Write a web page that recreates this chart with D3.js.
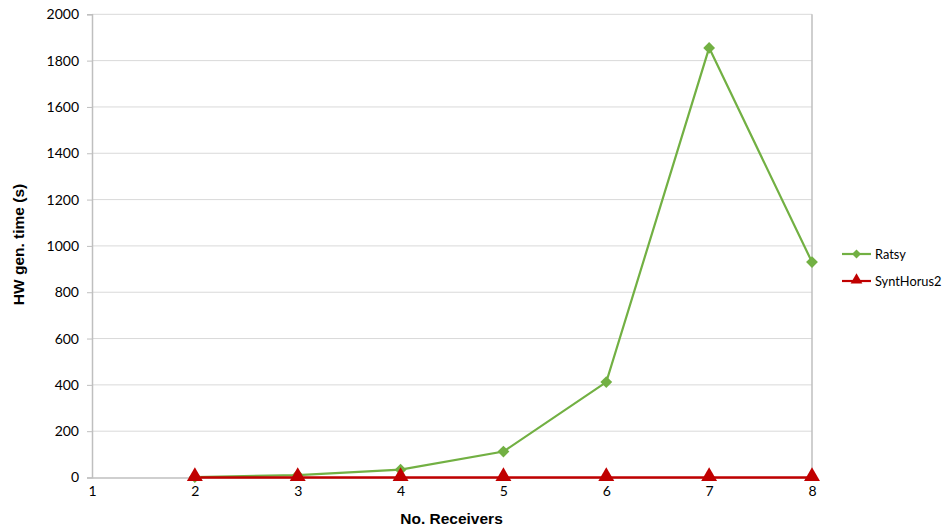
<!DOCTYPE html>
<html><head><meta charset="utf-8">
<script src="https://cdn.jsdelivr.net/npm/d3@7"></script>
<style>body{margin:0;background:#fff;} text{font-family:Lato,"Open Sans",sans-serif;}</style>
</head><body>
<svg id="c" width="944" height="530"></svg>
<script>
const receivers = [2,3,4,5,6,7,8];
const ratsy = [2,10,34,112,412,1855,930];
const synthorus2 = [0,0,0,0,0,0,0];
const yTicks = [0,200,400,600,800,1000,1200,1400,1600,1800,2000];
const xTicks = [1,2,3,4,5,6,7,8];
const seriesNames = ["Ratsy","SyntHorus2"];

const svg = d3.select("#c");
const L=92,R=812,T=14.3,B=477.5;
const x = d3.scaleLinear().domain([1,8]).range([L,R]);
const y = d3.scaleLinear().domain([0,2000]).range([B,T]);

// gridlines
svg.append("g").selectAll("line").data(yTicks.slice(1)).join("line")
  .attr("x1",L).attr("x2",R).attr("y1",d=>y(d)).attr("y2",d=>y(d))
  .attr("stroke","#d9d9d9").attr("stroke-width",1);
// right border
svg.append("line").attr("x1",R).attr("x2",R).attr("y1",T).attr("y2",B).attr("stroke","#bfbfbf").attr("stroke-width",1.5);

const yAxis = d3.axisLeft(y).tickValues(yTicks).tickSize(5).tickPadding(8).tickFormat(d3.format("d"));
const gy = svg.append("g").attr("transform",`translate(${L},0)`).call(yAxis);
gy.select(".domain").attr("stroke","#bfbfbf").attr("stroke-width",1.5);
gy.selectAll(".tick line").attr("stroke","#bfbfbf");
gy.selectAll("text").attr("font-size",14).attr("fill","#000").style("font-family","Lato");

const xAxis = d3.axisBottom(x).tickValues(xTicks).tickSize(0).tickPadding(9).tickFormat(d3.format("d"));
const gx = svg.append("g").attr("transform",`translate(0,${B})`).call(xAxis);
gx.select(".domain").attr("stroke","#bfbfbf").attr("stroke-width",1.5);
gx.selectAll("text").attr("font-size",14).attr("fill","#000").style("font-family","Lato");

const green="#72b043", red="#c00000";
const line = d3.line().x((d,i)=>x(receivers[i])).y(d=>y(d));

svg.append("path").datum(ratsy).attr("d",line).attr("fill","none").attr("stroke",green).attr("stroke-width",2.2);
svg.append("path").datum(synthorus2).attr("d",line).attr("fill","none").attr("stroke",red).attr("stroke-width",2.5);

const tri = d3.symbol().type(d3.symbolTriangle).size(110);

svg.append("g").selectAll("path").data(ratsy).join("path")
  .attr("transform",(d,i)=>`translate(${x(receivers[i])},${y(d)}) rotate(45)`)
  .attr("d",d3.symbol().type(d3.symbolSquare).size(70)).attr("fill",green);
svg.append("g").selectAll("path").data(synthorus2).join("path")
  .attr("transform",(d,i)=>`translate(${x(receivers[i])},${y(d)-1})`)
  .attr("d",tri).attr("fill",red);

// legend
const lg = svg.append("g");
const colors=[green,red];
seriesNames.forEach((n,i)=>{
  const yy = 254 + i*27;
  lg.append("line").attr("x1",842).attr("x2",871).attr("y1",yy).attr("y2",yy).attr("stroke",colors[i]).attr("stroke-width",2.2);
  if(i===0) lg.append("path").attr("transform",`translate(856.5,${yy}) rotate(45)`).attr("d",d3.symbol().type(d3.symbolSquare).size(40)).attr("fill",green);
  else lg.append("path").attr("transform",`translate(856.5,${yy-1})`).attr("d",d3.symbol().type(d3.symbolTriangle).size(60)).attr("fill",red);
  lg.append("text").attr("x",875).attr("y",yy+5).attr("font-size",12.8).text(n);
});

// titles
svg.append("text").attr("x",451.5).attr("y",524).attr("text-anchor","middle").attr("font-size",15.5).attr("font-weight","bold").style("font-family","'Liberation Sans',Arial,sans-serif").text("No. Receivers");
svg.append("text").attr("transform","translate(24,244.5) rotate(-90)").attr("text-anchor","middle").attr("font-size",15.5).attr("font-weight","bold").style("font-family","'Liberation Sans',Arial,sans-serif").text("HW gen. time (s)");
</script>
</body></html>
